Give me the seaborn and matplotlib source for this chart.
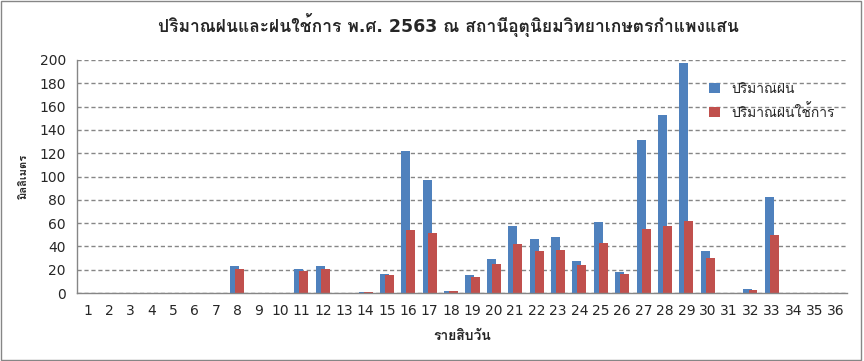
import matplotlib
matplotlib.use('Agg')
import matplotlib.pyplot as plt
from matplotlib.patches import Rectangle
from matplotlib.ticker import MultipleLocator, FixedLocator
import numpy as np
import pandas as pd
import seaborn as sns

# ── data ───────────────────────────────────────────────────────────────────
periods = list(range(1, 37))
rain = [0, 0, 0, 0, 0, 0, 0, 23.4, 0, 0, 20.9, 23.4, 0, 1.1, 16.6, 122.0, 97.1, 2.0,
        15.7, 29.4, 57.5, 46.4, 48.1, 27.6, 61.0, 18.2, 131.0, 152.4, 197.7, 36.2,
        0, 3.7, 82.3, 0, 0, 0]
eff_rain = [0, 0, 0, 0, 0, 0, 0, 20.9, 0, 0, 19.1, 20.9, 0, 1.1, 15.7, 54.3, 51.7, 2.0,
            14.0, 25.0, 42.0, 36.2, 37.0, 24.2, 43.0, 16.5, 55.0, 57.5, 61.8, 30.2,
            0, 2.8, 49.9, 0, 0, 0]
series = ['ปริมาณฝน', 'ปริมาณฝนใช้การ']
colors = ['#4F81BD', '#C0504D']

df = pd.DataFrame({
    'period': periods * 2,
    'value': rain + eff_rain,
    'series': [series[0]] * 36 + [series[1]] * 36,
})

sns.set_style('white')
plt.rcParams['font.family'] = ['DejaVu Sans', 'Loma']

fig = plt.figure(figsize=(8.64, 3.61), dpi=100)
ax = fig.add_axes([0.089, 0.188, 0.891, 0.646])

sns.barplot(data=df, x='period', y='value', hue='series', palette=colors,
            width=0.47, dodge=True, ax=ax, saturation=1, legend=True,
            linewidth=0, edgecolor='none')
# Excel style: bars of a cluster overlap a little
for p in ax.patches:
    c = p.get_x() + p.get_width() / 2
    p.set_width(0.42)
    p.set_x(c - 0.21)
    p.set_linewidth(0)

ax.set_ylim(0, 200)
ax.set_xlim(-0.5, 35.5)
ax.yaxis.set_major_locator(MultipleLocator(20))
ax.grid(axis='y', color='#868686', linestyle=(0, (3, 2)), linewidth=1)
ax.set_axisbelow(True)
for s in ['top', 'right']:
    ax.spines[s].set_visible(False)
for s in ['left', 'bottom']:
    ax.spines[s].set_color('#868686')
    ax.spines[s].set_linewidth(1)
ax.tick_params(axis='y', which='major', length=5, color='#868686', labelsize=10, pad=3)
ax.tick_params(axis='x', which='major', length=0, labelsize=10, pad=8)
ax.xaxis.set_minor_locator(FixedLocator(np.arange(-0.5, 36, 1)))
ax.tick_params(axis='x', which='minor', length=5, color='#868686')

ax.set_xlabel('รายสิบวัน', fontsize=10, fontweight='bold', labelpad=8)
ax.set_ylabel('มิลลิเมตร', fontsize=8, fontweight='bold', labelpad=8)
fig.suptitle('ปริมาณฝนและฝนใช้การ พ.ศ. 2563 ณ สถานีอุตุนิยมวิทยาเกษตรกำแพงแสน',
             x=0.519, y=0.931, va='center', fontsize=12.5, fontweight='bold')

leg = ax.legend(loc='upper left', bbox_to_anchor=(0.805, 0.96), frameon=False,
                fontsize=10, handlelength=0.8, handleheight=0.8, labelspacing=0.6)

# chart-area border
fig.patches.append(Rectangle((0.001, 0.004), 0.996, 0.993, transform=fig.transFigure,
                             fill=False, edgecolor='#868686', linewidth=1))

fig.savefig('out.png', dpi=100)
